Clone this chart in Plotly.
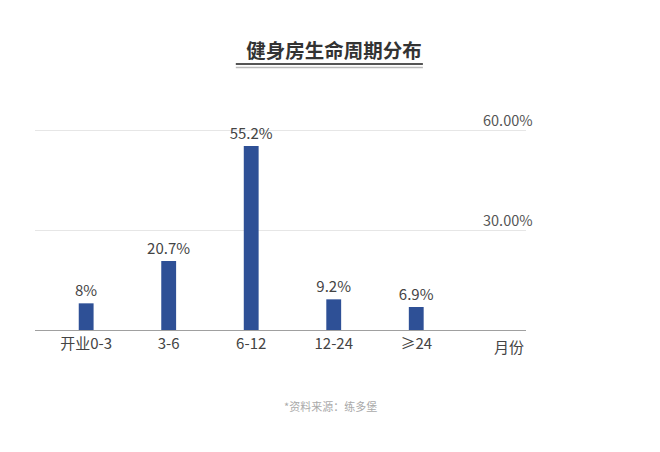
import plotly.graph_objects as go

# data
categories = ["开业0-3", "3-6", "6-12", "12-24", "≥24"]
shares = [8, 20.7, 55.2, 9.2, 6.9]
share_labels = ["8%", "20.7%", "55.2%", "9.2%", "6.9%"]
y_tick_vals = [30, 60]
y_tick_text = ["30.00%", "60.00%"]

FONT = "Noto Sans CJK SC"
BAR_COLOR = "#2E5096"

# page body adds an 8px offset, so the figure is drawn 8px smaller
W, H = 652, 444
L, R, T, B = 27, 134, 102, 122
PLOT_H = H - T - B

fig = go.Figure()

fig.add_trace(
    go.Bar(
        x=categories,
        y=shares,
        text=share_labels,
        textposition="outside",
        textangle=0,
        constraintext="none",
        textfont=dict(size=15, color="#444444", family=FONT),
        marker=dict(color=BAR_COLOR, line=dict(width=0)),
        width=0.18,
        cliponaxis=False,
        hoverinfo="skip",
    )
)

fig.update_layout(
    width=W,
    height=H,
    margin=dict(l=L, r=R, t=T, b=B),
    paper_bgcolor="white",
    plot_bgcolor="white",
    showlegend=False,
    font=dict(family=FONT, color="#444444"),
    title=dict(
        text="<b>健身房生命周期分布</b>",
        x=0.5,
        xanchor="center",
        y=1 - 43 / H,
        yanchor="middle",
        font=dict(size=19.5, color="#333333", family=FONT),
    ),
    xaxis=dict(
        type="category",
        range=[-0.62, 5.33],
        showline=True,
        linecolor="#a0a0a0",
        linewidth=1,
        showgrid=False,
        ticks="",
        tickfont=dict(size=15, color="#444444"),
    ),
    yaxis=dict(
        side="right",
        range=[0, 66],
        tickvals=y_tick_vals,
        ticktext=y_tick_text,
        ticklabelposition="outside",
        ticklabelstandoff=-44,
        ticklabelshift=-9,
        tickfont=dict(size=14.5, color="#555555"),
        showgrid=True,
        gridcolor="#e6e6e6",
        gridwidth=1,
        zeroline=False,
        showline=False,
        ticks="",
    ),
)

# double underline below the title
fig.add_shape(type="line", xref="paper", yref="paper",
              x0=0.409, x1=0.790, y0=(H - B - 56) / PLOT_H, y1=(H - B - 56) / PLOT_H,
              line=dict(color="#555555", width=2))
fig.add_shape(type="line", xref="paper", yref="paper",
              x0=0.409, x1=0.790, y0=(H - B - 59.5) / PLOT_H, y1=(H - B - 59.5) / PLOT_H,
              line=dict(color="#bbbbbb", width=1.5))

# axis unit label
fig.add_annotation(text="月份", xref="paper", yref="paper", x=1.0, y=0,
                   xanchor="right", yanchor="top", yshift=-4, showarrow=False,
                   font=dict(size=15, color="#444444", family=FONT))

# source note
fig.add_annotation(text="*资料来源：练多堡", xref="paper", yref="paper",
                   x=(322 - L) / 491, y=(H - B - 398) / PLOT_H,
                   xanchor="center", yanchor="middle", showarrow=False,
                   font=dict(size=11, color="#aaaaaa", family=FONT))

fig.write_html("out.html")
